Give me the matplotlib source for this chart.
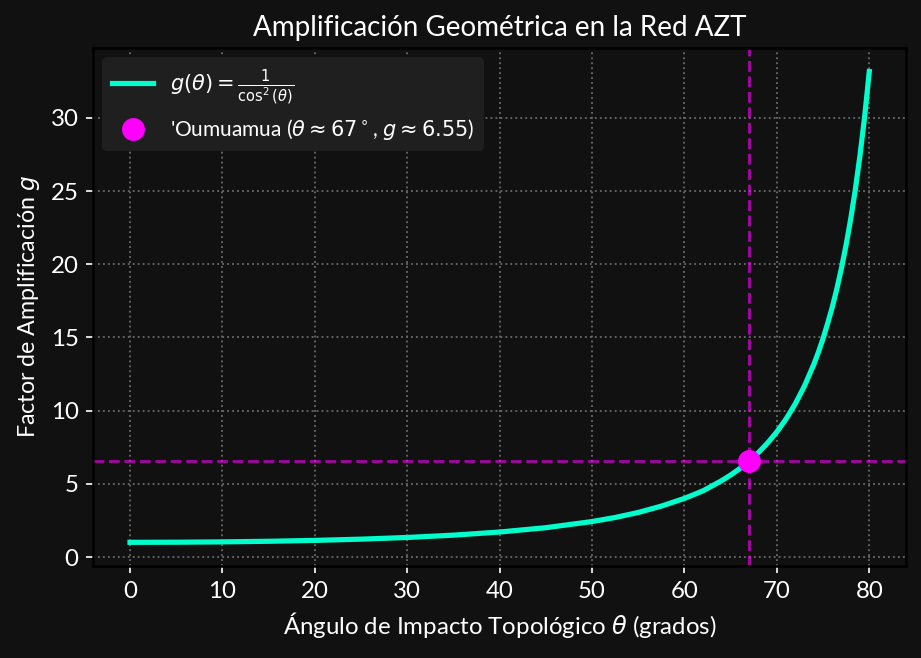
import matplotlib.pyplot as plt

# valores
theta = [0, 5, 10, 15, 20, 25, 30, 35, 40, 45, 50, 52.5, 55, 57.5, 60, 62, 64, 65, 66,
         67, 68, 69, 70, 71, 72, 73, 74, 74.5, 75, 75.5, 76, 76.5, 77, 77.5, 78,
         78.5, 79, 79.5, 80]
g_vals = [1.00, 1.008, 1.031, 1.072, 1.133, 1.217, 1.333, 1.490, 1.704, 2.000, 2.420,
          2.697, 3.040, 3.475, 4.000, 4.515, 5.204, 5.599, 6.044, 6.550, 7.126,
          7.790, 8.549, 9.430, 10.47, 11.70, 13.16, 14.00, 14.93, 15.97, 17.08,
          18.35, 19.76, 21.35, 23.13, 25.15, 27.46, 30.10, 33.16]

oumuamua_theta = 67
oumuamua_g = 6.55

plt.rcParams['font.family'] = ['Lato', 'DejaVu Sans']
plt.rcParams['mathtext.fontset'] = 'dejavusans'

fig = plt.figure(figsize=(6.14, 4.387), dpi=150, facecolor='#111111')
ax = fig.add_axes([0.101, 0.140, 0.883, 0.787])
ax.set_facecolor('#111111')

ax.plot(theta, g_vals, color='#00ffcc', linewidth=2.5,
        label=r'$g(\theta) = \frac{1}{\cos^2(\theta)}$')
ax.axvline(oumuamua_theta, color='#ff00ff', linestyle='--', linewidth=1.4, alpha=0.62)
ax.axhline(oumuamua_g, color='#ff00ff', linestyle='--', linewidth=1.4, alpha=0.58)
ax.plot(oumuamua_theta, oumuamua_g, 'o', color='#ff00ff', markersize=10, zorder=5,
        linestyle='none',
        label=r"'Oumuamua ($\theta \approx 67^\circ$, $g \approx 6.55$)")

ax.set_title('Amplificación Geométrica en la Red AZT', color='white', fontsize=13.3)
ax.set_xlabel(r'Ángulo de Impacto Topológico $\theta$ (grados)', color='white', fontsize=11.5)
ax.set_ylabel(r'Factor de Amplificación $g$', color='white', fontsize=11.2)

ax.grid(True, linestyle=':', color='#666666', linewidth=0.9)
ax.tick_params(colors='white', labelsize=11.5)
for s in ax.spines.values():
    s.set_color('black')
    s.set_linewidth(1.2)

leg = ax.legend(loc='upper left', facecolor='#1f1f1f', edgecolor='#1f1f1f',
                framealpha=1, fontsize=10)
for t in leg.get_texts():
    t.set_color('white')

fig.savefig('out.png', dpi=150, facecolor=fig.get_facecolor())
